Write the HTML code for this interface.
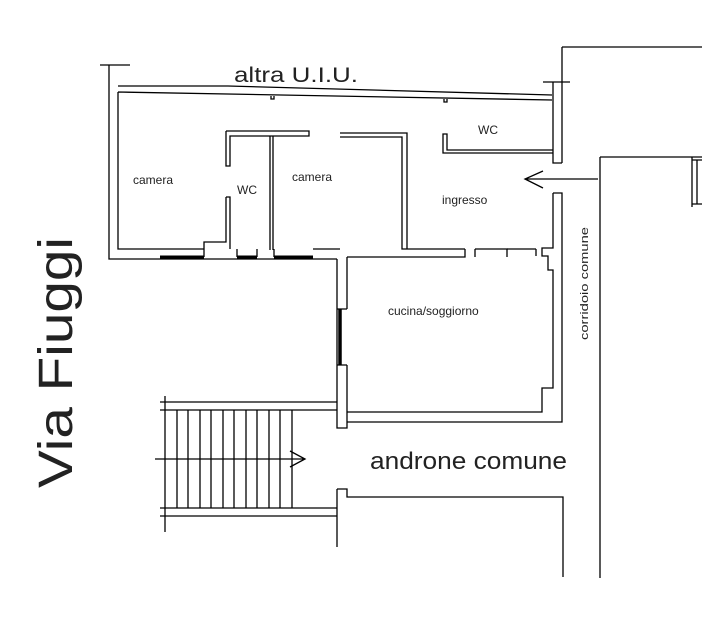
<!DOCTYPE html>
<html><head><meta charset="utf-8"><style>
html,body{margin:0;padding:0;background:#fff;}
svg{display:block;}
text{font-family:"Liberation Sans",Arial,sans-serif;fill:#222;}
</style></head><body>
<svg width="702" height="621" viewBox="0 0 702 621" xmlns="http://www.w3.org/2000/svg">
<g fill="none" stroke="#000" stroke-width="1.3">
<path d="M100 65H130M109 65V259H337"/>
<path d="M118 86H228L552 95"/>
<path d="M118 92V249H160M118 92L552 100"/>
<path d="M271 96v3h3v-3M444 99v3h3v-3"/>
<path d="M543 82H570M553 82V163H562M562 47V163M562 47H702"/>
<path d="M553 150H447V134H443V153H553"/>
<path d="M553 193H562V422H347M553 193V248H542V256H548V270H553V388H542V412H347"/>
<path d="M226 131H309V136H230V166H226V131"/>
<path d="M226 197H230V249M226 197V242H204V249M204 249H160"/>
<path d="M270 136V250M273 136V250"/>
<path d="M340 133H407V249M340 137H402V249H465"/>
<path d="M237 249V257M257 249V257M204 257V249M274 249V257M313 249H340"/>
<path d="M465 249V257H347M475 249V257M475 249H507V257"/>
<path d="M507 249H536M536 249V256"/>
<path d="M337 259V428H347V412M347 257V309M347 365V412M337 309H347M337 365H347"/>
<path d="M160 257H204M237 257H257M274 257H313" stroke-width="3"/>
<path d="M340 309V365" stroke-width="3.5"/>
<path d="M160 402H337M160 410H337M160 508H337M160 516H337M165 396V532"/>
<path d="M177 410V508M188 410V508M200 410V508M211 410V508M223 410V508M234 410V508M246 410V508M257 410V508M269 410V508M280 410V508M292 410V508"/>
<path d="M155 459H305M290 451L305 459L290 467"/>
<path d="M337 489V547M337 489H347V497H563V577"/>
<path d="M600 157V578M600 157H702M692 157V207M697 160V204M692 160H702M692 204H702"/>
<path d="M598 179H525M543 171L525 179L543 188"/>
</g>
<text x="234" y="82" font-size="21" textLength="124" lengthAdjust="spacingAndGlyphs">altra U.I.U.</text>
<text x="133" y="184" font-size="12">camera</text>
<text x="237" y="194" font-size="12">WC</text>
<text x="292" y="181" font-size="12">camera</text>
<text x="478" y="134" font-size="12">WC</text>
<text x="442" y="204" font-size="12">ingresso</text>
<text x="388" y="315" font-size="12">cucina/soggiorno</text>
<text x="370" y="469" font-size="24" textLength="197" lengthAdjust="spacingAndGlyphs">androne comune</text>
<text transform="translate(588,340) rotate(-90)" font-size="11" textLength="113" lengthAdjust="spacingAndGlyphs">corridoio comune</text>
<text transform="translate(72,488) rotate(-90)" font-size="48" textLength="251" lengthAdjust="spacingAndGlyphs">Via Fiuggi</text>
</svg>
</body></html>
